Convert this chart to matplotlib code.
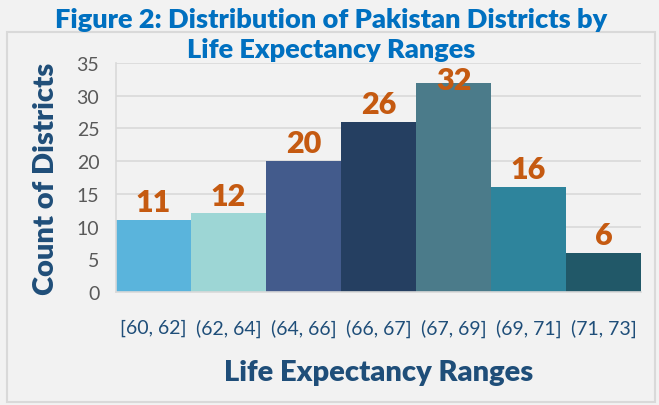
import matplotlib.pyplot as plt
from matplotlib.patches import Rectangle

ranges = ['[60, 62]', '(62, 64]', '(64, 66]', '(66, 67]', '(67, 69]', '(69, 71]', '(71, 73]']
counts = [11, 12, 20, 26, 32, 16, 6]
bar_colors = ['#5ab4dc', '#9dd6d5', '#435b8c', '#253f61', '#4b7b8a', '#2e849c', '#215868']
title_lines = ['Figure 2: Distribution of Pakistan Districts by', 'Life Expectancy Ranges']

plt.rcParams['font.family'] = ['Lato', 'DejaVu Sans']

fig = plt.figure(figsize=(6.59, 4.06), dpi=100, facecolor='#f2f2f2')

# outer frame of the chart box
fig.patches.append(Rectangle((7/659, 3/406), 648/659, 370/406, transform=fig.transFigure,
                             fill=False, edgecolor='#d9d9d9', linewidth=1.5))

ax = fig.add_axes([116/659, 113/406, 525/659, 229/406])
ax.set_facecolor('#f2f2f2')
x = range(len(counts))
ax.bar(x, counts, width=1.0, color=bar_colors, zorder=2)
ax.set_xlim(-0.5, len(counts) - 0.5)
ax.set_ylim(0, 35)
ax.set_yticks(range(0, 36, 5))
ax.grid(axis='y', color='#d9d9d9', linewidth=1.2, zorder=0)
ax.set_axisbelow(True)
for s in ['top', 'right']:
    ax.spines[s].set_visible(False)
for s in ['left', 'bottom']:
    ax.spines[s].set_color('#d9d9d9')
    ax.spines[s].set_linewidth(1.2)
ax.tick_params(axis='both', length=0)
ax.tick_params(axis='y', labelsize=14, labelcolor='#595959', pad=12)
ax.set_xticks(list(x))
ax.set_xticklabels(ranges, fontsize=14, color='#1f4e79')
ax.tick_params(axis='x', pad=19)

# value labels
for i, v in enumerate(counts):
    ax.text(i, min(v + 0.6, 30.3), str(v), ha='center', va='bottom', fontsize=22,
            fontweight='heavy', color='#c55a11', zorder=3)

ax.set_ylabel('Count of Districts', fontsize=21, fontweight='heavy', color='#1f4e79', labelpad=13)
ax.set_xlabel('Life Expectancy Ranges', fontsize=21, fontweight='heavy', color='#1f4e79', labelpad=16)

# title, two lines, written separately
fig.text(331/659, 1 - 20/406, title_lines[0], ha='center', va='center', fontsize=19.5,
         fontweight='heavy', color='#0070c0')
fig.text(331/659, 1 - 50/406, title_lines[1], ha='center', va='center', fontsize=19.5,
         fontweight='heavy', color='#0070c0')

fig.savefig('out.png', dpi=100, facecolor=fig.get_facecolor())
